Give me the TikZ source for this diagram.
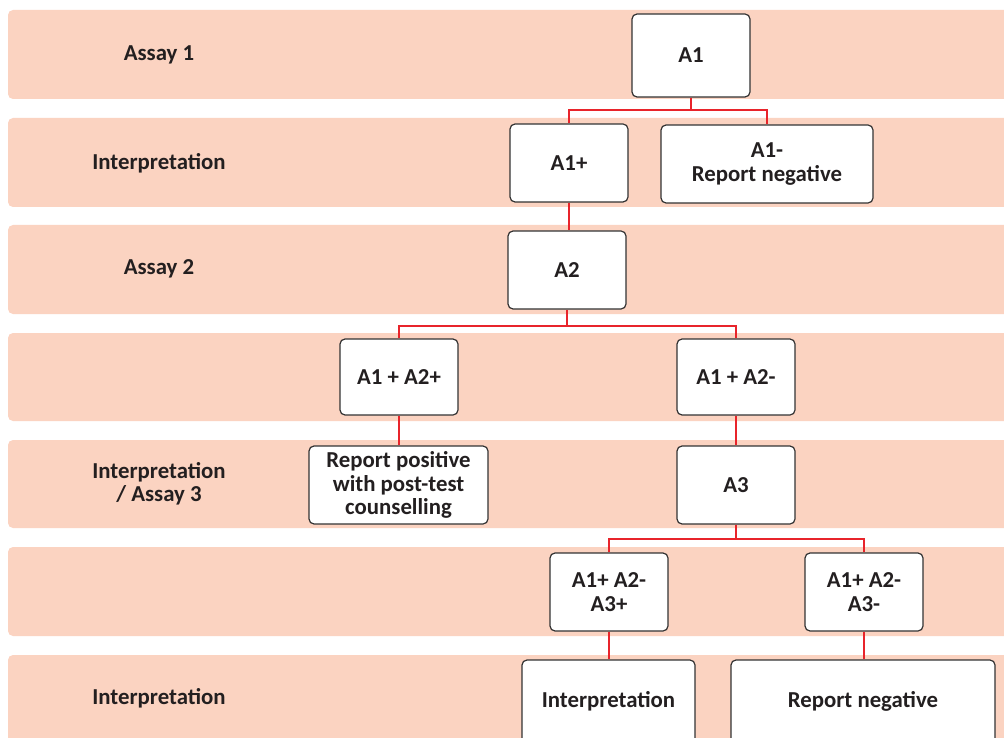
\documentclass[tikz,border=0pt]{standalone}
\usepackage{fontspec}
\setmainfont{Carlito}
\definecolor{band}{HTML}{FBD3C1}
\definecolor{conn}{HTML}{E8242B}
\definecolor{edge}{HTML}{333333}
\definecolor{txt}{HTML}{231F20}
\begin{document}
\begin{tikzpicture}[x=1pt,y=-1pt,
  bandbox/.style={fill=band,draw=none,rounded corners=5pt},
  label/.style={font=\fontsize{22.8}{23.5}\selectfont\bfseries,text=txt,align=center},
  box/.style={draw=edge,line width=1.2pt,fill=white,rounded corners=5pt,
    font=\fontsize{22.8}{23.5}\selectfont\bfseries,text=txt,align=center,inner sep=0pt},
  link/.style={draw=conn,line width=2pt}]
\useasboundingbox (0,0) rectangle (1004,738);
% bands
\foreach \t/\b in {10/99,118/207,225/314,333/421,440/528,547/636,655/760}{
  \path[bandbox] (8,\t) -- (8,\b) -- (1010,\b) -- (1010,\t) -- cycle;
}
% left labels
\node[label] (l1) at (159,55) {Assay 1};
\node[label] (l2) at (159,163) {Interpretation};
\node[label] (l3) at (159,269) {Assay 2};
\node[label] (l5) at (159,484) {Interpretation\\/ Assay 3};
\node[label] (l7) at (159,698) {Interpretation};
% boxes
\node[box,minimum width=118pt,minimum height=83pt] (a1) at (691,55.5) {A1};
\node[box,minimum width=118pt,minimum height=78pt] (a1p) at (569,163) {A1+};
\node[box,minimum width=212pt,minimum height=78pt] (a1m) at (767,164) {A1-\\Report negative};
\node[box,minimum width=118pt,minimum height=78pt] (a2) at (567,270) {A2};
\node[box,minimum width=118pt,minimum height=76pt] (a12p) at (399,377) {A1 + A2+};
\node[box,minimum width=118pt,minimum height=76pt] (a12m) at (736,377) {A1 + A2-};
\node[box,minimum width=179pt,minimum height=78pt] (rp) at (398.5,485) {Report positive\\with post-test\\counselling};
\node[box,minimum width=118pt,minimum height=78pt] (a3) at (736,485) {A3};
\node[box,minimum width=118pt,minimum height=78pt] (a3p) at (609,592) {A1+ A2-\\A3+};
\node[box,minimum width=118pt,minimum height=78pt] (a3m) at (864,592) {A1+ A2-\\A3-};
\node[box,minimum width=173pt,minimum height=90pt] (interp) at (608.5,705) {\raisebox{11pt}{Interpretation}};
\node[box,minimum width=264pt,minimum height=90pt] (rn) at (863,705) {\raisebox{11pt}{Report negative}};
% connectors
\draw[link] (a1.south) -- ++(0,12) coordinate (j1) -| (a1p.north);
\draw[link] (j1) -| (a1m.north);
\draw[link] (a1p.south) -- (a1p.south |- a2.north);
\draw[link] (a2.south) -- ++(0,16) coordinate (j2) -| (a12p.north);
\draw[link] (j2) -| (a12m.north);
\draw[link] (a12p.south) -- (a12p.south |- rp.north);
\draw[link] (a12m.south) -- (a3.north);
\draw[link] (a3.south) -- ++(0,14) coordinate (j3) -| (a3p.north);
\draw[link] (j3) -| (a3m.north);
\draw[link] (a3p.south) -- (a3p.south |- interp.north);
\draw[link] (a3m.south) -- (a3m.south |- rn.north);
\end{tikzpicture}
\end{document}
